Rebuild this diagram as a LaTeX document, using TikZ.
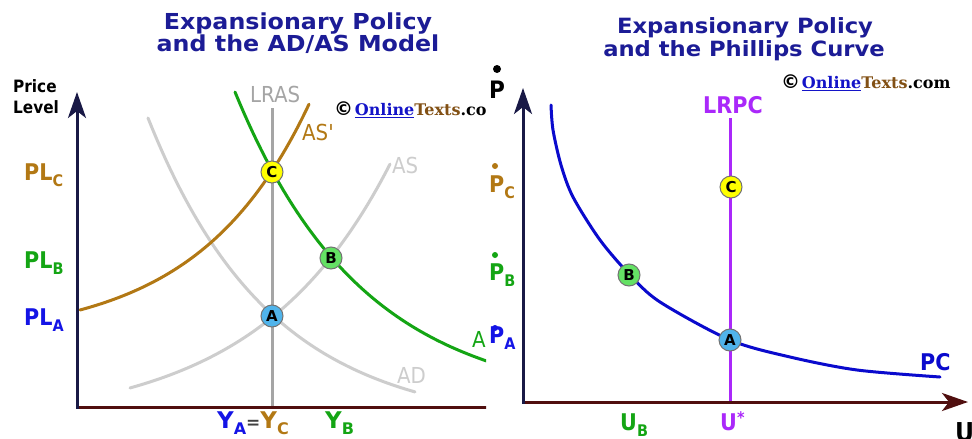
\documentclass[tikz,border=0pt]{standalone}
\usepackage{fontspec}
\setmainfont{DejaVu Sans}
\newfontfamily\titlefont[FakeStretch=1.08]{DejaVu Sans}
\newfontfamily\lblfont[FakeStretch=0.9]{DejaVu Sans}
\newfontfamily\wmfont{DejaVu Serif}
\usetikzlibrary{arrows.meta}
\definecolor{navy}{RGB}{28,28,150}
\definecolor{axisy}{RGB}{25,25,70}
\definecolor{axisx}{RGB}{80,15,15}
\definecolor{brownc}{RGB}{178,120,20}
\definecolor{greenc}{RGB}{20,165,20}
\definecolor{bluec}{RGB}{20,20,230}
\definecolor{pcblue}{RGB}{10,10,205}
\definecolor{lgray}{RGB}{205,205,205}
\definecolor{mgray}{RGB}{165,165,165}
\definecolor{purplec}{RGB}{170,40,250}
\definecolor{ptyellow}{RGB}{255,255,0}
\definecolor{ptgreen}{RGB}{100,225,100}
\definecolor{ptblue}{RGB}{80,180,235}
\definecolor{wmblue}{RGB}{20,20,200}
\definecolor{wmbrown}{RGB}{130,80,20}
\newcommand{\lsub}[1]{\raisebox{-6pt}{\fontsize{16}{16}\selectfont #1}}
\begin{document}
\begin{tikzpicture}[x=1pt,y=-1pt,
  ttl/.style={text=navy, font=\titlefont\bfseries\fontsize{22}{22}\selectfont, anchor=base, inner sep=0pt},
  lbl/.style={font=\lblfont\bfseries\fontsize{23}{23}\selectfont, anchor=base west, inner sep=0pt},
  ylbl/.style={font=\bfseries\fontsize{23}{23}\selectfont, anchor=base west, inner sep=0pt},
  thinlbl/.style={font=\lblfont\fontsize{22}{22}\selectfont, anchor=base west, inner sep=0pt},
  eqpt/.style={circle, draw=black!55, line width=1pt, minimum size=22pt, inner sep=0pt, font=\bfseries\fontsize{15}{15}\selectfont},
  curve/.style={line width=3pt, line cap=round},
  yax/.style={line width=3pt, draw=axisy, -{Stealth[length=26pt,width=18pt,inset=7pt]}},
  xax/.style={line width=3pt, draw=axisx, -{Stealth[length=26pt,width=18pt,inset=7pt]}},
  pdot/.style={circle, inner sep=0pt, minimum size=6pt},
  wm/.style={anchor=west, inner sep=0pt}
]
\useasboundingbox (0,0) rectangle (972,439);
\fill[white] (0,0) rectangle (972,439);

% ================= LEFT PANEL =================
\begin{scope}
\clip (0,0) rectangle (486,439);
\node[ttl] (t1) at (298,29) {Expansionary Policy};
\node[ttl] (t2) at (298,51) {and the AD/AS Model};
\node[font=\lblfont\bfseries\fontsize{17}{17}\selectfont, anchor=base west, inner sep=0pt] (pl1) at (13,92) {Price};
\node[font=\lblfont\bfseries\fontsize{17}{17}\selectfont, anchor=base west, inner sep=0pt] (pl2) at (13,113) {Level};

\node[wm] (wmL) at (334,110) {{\fontsize{19}{19}\selectfont\bfseries ©}\,{\wmfont\bfseries\fontsize{16}{16}\selectfont\textcolor{wmblue}{\underline{Online}}\textcolor{wmbrown}{Texts}.com}};

% curves
\draw[curve, draw=lgray] plot[domain=148:415, samples=60] (\x, {427-309*exp(-0.00815*(\x-148))});
\draw[curve, draw=lgray] plot[domain=130:390, samples=60] (\x, {425-13.96*exp(0.0075*\x)});
\draw[line width=3pt, draw=mgray] (272,108) -- (272,407);
\draw[curve, draw=brownc] plot[domain=80:309, samples=60] (\x, {340-14.6*exp(0.009*\x)});
\draw[curve, draw=greenc] plot[domain=235:495, samples=60] (\x, {405-313*exp(-0.0078*(\x-235))});

% axes
\coordinate (oL) at (77,407);
\coordinate (yL) at (77,92);
\coordinate (xL) at (520,407);
\draw[xax] (oL) -- (xL);
\draw[yax] (77,408.5) -- (yL);

% labels
\node[thinlbl, text=mgray] (lras) at (250,102) {LRAS};
\node[thinlbl, text=brownc] (asp) at (302,140) {AS'};
\node[thinlbl, text=lgray] (as) at (392,173) {AS};
\node[thinlbl, text=lgray] (ad) at (397,383) {AD};
\node[thinlbl, text=greenc] (adp) at (472,347) {AD'};

\node[lbl, text=brownc] (plc) at (24,180) {PL\lsub{C}};
\node[lbl, text=greenc] (plb) at (24,268) {PL\lsub{B}};
\node[lbl, text=bluec] (pla) at (24,325) {PL\lsub{A}};
\node[ylbl] (yac) at (217,428) {\textcolor{bluec}{Y\lsub{A}}\textcolor{black!75}{\fontsize{17}{17}\selectfont =}\textcolor{brownc}{Y\lsub{C}}};
\node[ylbl, text=greenc] (yb) at (325,428) {Y\lsub{B}};

% points
\node[eqpt, fill=ptyellow] (C) at (272,172) {C};
\node[eqpt, fill=ptgreen] (B) at (331,258) {B};
\node[eqpt, fill=ptblue] (A) at (272,316) {A};
\end{scope}

% ================= RIGHT PANEL =================
\node[ttl, font=\titlefont\bfseries\fontsize{21}{21}\selectfont] (t3) at (745,33) {Expansionary Policy};
\node[ttl, font=\titlefont\bfseries\fontsize{21}{21}\selectfont] (t4) at (744,56) {and the Phillips Curve};

\node[wm] (wmR) at (781,83) {{\fontsize{19}{19}\selectfont\bfseries ©}\,{\wmfont\bfseries\fontsize{16}{16}\selectfont\textcolor{wmblue}{\underline{Online}}\textcolor{wmbrown}{Texts}.com}};

\draw[line width=3pt, draw=purplec] (730,118) -- (730,402);
\draw[curve, draw=pcblue] plot[smooth] coordinates {(551,105) (553,130) (561,165) (573,197) (600,240) (630,275) (660,302) (730,340) (790,357) (857,370) (940,377)};

\coordinate (oR) at (523,402);
\coordinate (yR) at (523,88);
\coordinate (xR) at (968,402);
\draw[xax] (oR) -- (xR);
\draw[yax] (523,403.5) -- (yR);

\node[lbl, text=black, font=\lblfont\bfseries\fontsize{24}{24}\selectfont] (pdotlbl) at (489,98) {P};
\node[pdot, fill=black, minimum size=8pt] (pd0) at (497,69) {};
\node[lbl, text=brownc] (pc) at (489,192) {P\lsub{C}};
\node[pdot, fill=brownc] (pd1) at (495,166) {};
\node[lbl, text=greenc] (pb) at (489,280) {P\lsub{B}};
\node[pdot, fill=greenc] (pd2) at (495,255) {};
\node[lbl, text=bluec] (pa) at (489,343) {P\lsub{A}};
\node[pdot, fill=bluec] (pd3) at (495,328) {};

\node[lbl, text=purplec] (lrpc) at (703,113) {LRPC};
\node[lbl, text=pcblue] (pclbl) at (920,370) {PC};
\node[lbl, text=greenc] (ub) at (620,430) {U\lsub{B}};
\node[lbl, text=purplec] (us) at (720,430) {U\raisebox{7pt}{\fontsize{16}{16}\selectfont *}};
\node[lbl, text=black, font=\lblfont\bfseries\fontsize{26}{26}\selectfont] (ulbl) at (955,441) {U};

\node[eqpt, fill=ptyellow] (C2) at (731,187) {C};
\node[eqpt, fill=ptgreen] (B2) at (629,275) {B};
\node[eqpt, fill=ptblue] (A2) at (730,340) {A};
\end{tikzpicture}
\end{document}
